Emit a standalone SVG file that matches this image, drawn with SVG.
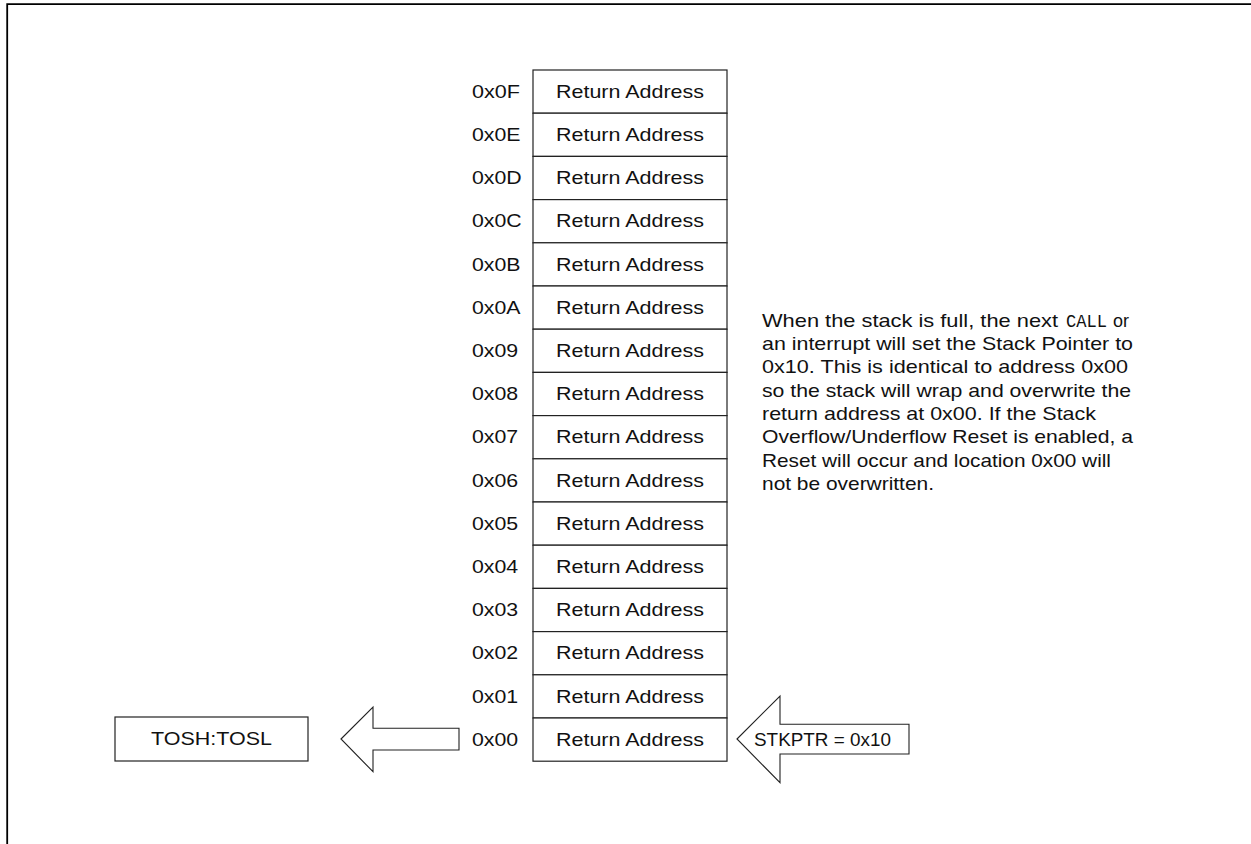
<svg xmlns="http://www.w3.org/2000/svg" width="1251" height="844" viewBox="0 0 1251 844">
<style>
.bg{fill:#fff}
.frame{fill:none;stroke:#000;stroke-width:1.8}
.cell{fill:#fff;stroke:#222;stroke-width:1.2}
.shape{fill:#fff;stroke:#222;stroke-width:1.1;stroke-linejoin:miter}
.t{font-family:"Liberation Sans",Arial,sans-serif;font-size:18.5px;fill:#111}
.m{text-anchor:middle}
.mono{font-family:"Liberation Mono","Courier New",monospace;font-size:18px;fill:#111}
</style>
<rect class="bg" x="0" y="0" width="1251" height="844"/>
<path class="frame" d="M7.2,844 V4.2 H1251"/>

<g id="stack">
<g id="cell-0x0F"><rect class="cell" x="533" y="70" width="194" height="43.2"/><text class="t" x="472" y="97.7" textLength="48" lengthAdjust="spacingAndGlyphs">0x0F</text><text class="t m" x="630" y="97.7" textLength="148" lengthAdjust="spacingAndGlyphs">Return Address</text></g>
<g id="cell-0x0E"><rect class="cell" x="533" y="113.2" width="194" height="43.2"/><text class="t" x="472" y="140.9" textLength="48.5" lengthAdjust="spacingAndGlyphs">0x0E</text><text class="t m" x="630" y="140.9" textLength="148" lengthAdjust="spacingAndGlyphs">Return Address</text></g>
<g id="cell-0x0D"><rect class="cell" x="533" y="156.4" width="194" height="43.2"/><text class="t" x="472" y="184.1" textLength="49.7" lengthAdjust="spacingAndGlyphs">0x0D</text><text class="t m" x="630" y="184.1" textLength="148" lengthAdjust="spacingAndGlyphs">Return Address</text></g>
<g id="cell-0x0C"><rect class="cell" x="533" y="199.6" width="194" height="43.2"/><text class="t" x="472" y="227.3" textLength="49.7" lengthAdjust="spacingAndGlyphs">0x0C</text><text class="t m" x="630" y="227.3" textLength="148" lengthAdjust="spacingAndGlyphs">Return Address</text></g>
<g id="cell-0x0B"><rect class="cell" x="533" y="242.8" width="194" height="43.2"/><text class="t" x="472" y="270.5" textLength="48.5" lengthAdjust="spacingAndGlyphs">0x0B</text><text class="t m" x="630" y="270.5" textLength="148" lengthAdjust="spacingAndGlyphs">Return Address</text></g>
<g id="cell-0x0A"><rect class="cell" x="533" y="286" width="194" height="43.2"/><text class="t" x="472" y="313.7" textLength="48.5" lengthAdjust="spacingAndGlyphs">0x0A</text><text class="t m" x="630" y="313.7" textLength="148" lengthAdjust="spacingAndGlyphs">Return Address</text></g>
<g id="cell-0x09"><rect class="cell" x="533" y="329.2" width="194" height="43.2"/><text class="t" x="472" y="356.9" textLength="46.2" lengthAdjust="spacingAndGlyphs">0x09</text><text class="t m" x="630" y="356.9" textLength="148" lengthAdjust="spacingAndGlyphs">Return Address</text></g>
<g id="cell-0x08"><rect class="cell" x="533" y="372.4" width="194" height="43.2"/><text class="t" x="472" y="400.1" textLength="46.2" lengthAdjust="spacingAndGlyphs">0x08</text><text class="t m" x="630" y="400.1" textLength="148" lengthAdjust="spacingAndGlyphs">Return Address</text></g>
<g id="cell-0x07"><rect class="cell" x="533" y="415.6" width="194" height="43.2"/><text class="t" x="472" y="443.3" textLength="46.2" lengthAdjust="spacingAndGlyphs">0x07</text><text class="t m" x="630" y="443.3" textLength="148" lengthAdjust="spacingAndGlyphs">Return Address</text></g>
<g id="cell-0x06"><rect class="cell" x="533" y="458.8" width="194" height="43.2"/><text class="t" x="472" y="486.5" textLength="46.2" lengthAdjust="spacingAndGlyphs">0x06</text><text class="t m" x="630" y="486.5" textLength="148" lengthAdjust="spacingAndGlyphs">Return Address</text></g>
<g id="cell-0x05"><rect class="cell" x="533" y="502" width="194" height="43.2"/><text class="t" x="472" y="529.7" textLength="46.2" lengthAdjust="spacingAndGlyphs">0x05</text><text class="t m" x="630" y="529.7" textLength="148" lengthAdjust="spacingAndGlyphs">Return Address</text></g>
<g id="cell-0x04"><rect class="cell" x="533" y="545.2" width="194" height="43.2"/><text class="t" x="472" y="572.9" textLength="46.2" lengthAdjust="spacingAndGlyphs">0x04</text><text class="t m" x="630" y="572.9" textLength="148" lengthAdjust="spacingAndGlyphs">Return Address</text></g>
<g id="cell-0x03"><rect class="cell" x="533" y="588.4" width="194" height="43.2"/><text class="t" x="472" y="616.1" textLength="46.2" lengthAdjust="spacingAndGlyphs">0x03</text><text class="t m" x="630" y="616.1" textLength="148" lengthAdjust="spacingAndGlyphs">Return Address</text></g>
<g id="cell-0x02"><rect class="cell" x="533" y="631.6" width="194" height="43.2"/><text class="t" x="472" y="659.3" textLength="46.2" lengthAdjust="spacingAndGlyphs">0x02</text><text class="t m" x="630" y="659.3" textLength="148" lengthAdjust="spacingAndGlyphs">Return Address</text></g>
<g id="cell-0x01"><rect class="cell" x="533" y="674.8" width="194" height="43.2"/><text class="t" x="472" y="702.5" textLength="46.2" lengthAdjust="spacingAndGlyphs">0x01</text><text class="t m" x="630" y="702.5" textLength="148" lengthAdjust="spacingAndGlyphs">Return Address</text></g>
<g id="cell-0x00"><rect class="cell" x="533" y="718" width="194" height="43.2"/><text class="t" x="472" y="745.7" textLength="46.2" lengthAdjust="spacingAndGlyphs">0x00</text><text class="t m" x="630" y="745.7" textLength="148" lengthAdjust="spacingAndGlyphs">Return Address</text></g>
</g>

<g id="tos">
<rect class="cell" x="115" y="717" width="193" height="44"/>
<text class="t m" x="211.5" y="745" textLength="121" lengthAdjust="spacingAndGlyphs">TOSH:TOSL</text>
</g>

<g id="connectors">
<polygon id="arrow-tos" class="shape" points="341,739 373,707 373,728.3 459,728.3 459,750 373,750 373,771.7"/>
</g>

<g id="stkptr">
<polygon class="shape" points="737,739 780,696 780,724.3 909,724.3 909,754 780,754 780,782.7"/>
<text class="t" x="754" y="746" textLength="137" lengthAdjust="spacingAndGlyphs">STKPTR = 0x10</text>
</g>

<g id="note">
<text class="t" x="762" y="326.7" textLength="296" lengthAdjust="spacingAndGlyphs">When the stack is full, the next</text>
<text class="mono" x="1066" y="326.7" textLength="41" lengthAdjust="spacingAndGlyphs">CALL</text>
<text class="t" x="1113" y="326.7" textLength="16" lengthAdjust="spacingAndGlyphs">or</text>
<text class="t" x="762" y="350" textLength="371" lengthAdjust="spacingAndGlyphs">an interrupt will set the Stack Pointer to</text>
<text class="t" x="762" y="373.3" textLength="366" lengthAdjust="spacingAndGlyphs">0x10. This is identical to address 0x00</text>
<text class="t" x="762" y="396.6" textLength="369" lengthAdjust="spacingAndGlyphs">so the stack will wrap and overwrite the</text>
<text class="t" x="762" y="419.9" textLength="334" lengthAdjust="spacingAndGlyphs">return address at 0x00. If the Stack</text>
<text class="t" x="762" y="443.2" textLength="371" lengthAdjust="spacingAndGlyphs">Overflow/Underflow Reset is enabled, a</text>
<text class="t" x="762" y="466.5" textLength="349" lengthAdjust="spacingAndGlyphs">Reset will occur and location 0x00 will</text>
<text class="t" x="762" y="489.8" textLength="172" lengthAdjust="spacingAndGlyphs">not be overwritten.</text>
</g>
</svg>
